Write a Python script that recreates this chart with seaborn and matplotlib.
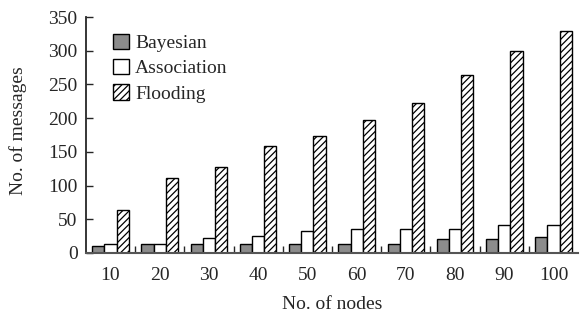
import matplotlib
matplotlib.use("Agg")
import matplotlib.pyplot as plt
import seaborn as sns
import pandas as pd

nodes = ["10", "20", "30", "40", "50", "60", "70", "80", "90", "100"]
bayesian = [11, 13, 13, 13, 13, 13, 13, 21, 21, 24]
association = [13, 13, 22, 25, 33, 35, 35, 35, 41, 41]
flooding = [63, 111, 128, 159, 174, 197, 222, 264, 300, 329]
series = ["Bayesian", "Association", "Flooding"]

rows = []
for name, vals in zip(series, [bayesian, association, flooding]):
    for n, v in zip(nodes, vals):
        rows.append({"nodes": n, "value": v, "series": name})
df = pd.DataFrame(rows)

sns.set_style("ticks")
plt.rcParams["font.family"] = ["Liberation Serif", "DejaVu Serif"]
plt.rcParams["hatch.color"] = "#555555"
plt.rcParams["hatch.linewidth"] = 0.9

FS = 14

fig = plt.figure(figsize=(5.84, 3.15), dpi=100)
ax = fig.add_axes([0.147, 0.197, 0.843, 0.749])

palette = {"Bayesian": "#8c8c8c", "Association": "white", "Flooding": "white"}
sns.barplot(data=df, x="nodes", y="value", hue="series", order=nodes,
            hue_order=series, palette=palette, width=0.74, edgecolor="black",
            linewidth=1.0, saturation=1, ax=ax, legend=False)

for p in ax.containers[2].patches:
    p.set_hatch("/////")

ax.set_xlim(-0.5, len(nodes) - 0.5)
ax.set_ylim(0, 350)
ax.set_yticks(range(0, 351, 50))
ax.tick_params(axis="y", direction="in", length=5, labelsize=FS, width=1, pad=6)
ax.tick_params(axis="x", which="major", length=0, labelsize=FS, pad=10)
ax.set_xticks([i + 0.5 for i in range(len(nodes) - 1)], minor=True)
ax.tick_params(axis="x", which="minor", direction="in", length=5, width=1)
sns.despine(ax=ax)
ax.spines["left"].set_linewidth(1.3)
ax.spines["bottom"].set_linewidth(1.5)
ax.spines["bottom"].set_color("#555555")

ax.set_xlabel("No. of nodes", fontsize=FS)
ax.set_ylabel("No. of messages", fontsize=FS)
ax.xaxis.set_label_coords(0.5, -0.183)
ax.yaxis.set_label_coords(-0.12, 0.517)

ax.legend(handles=ax.containers, labels=series, loc="upper left",
          bbox_to_anchor=(0.055, 0.93), frameon=False, fontsize=FS,
          handlelength=0.85, handleheight=0.85, handletextpad=0.3,
          labelspacing=0.35, borderaxespad=0, borderpad=0)

fig.savefig("out.png", dpi=100)
